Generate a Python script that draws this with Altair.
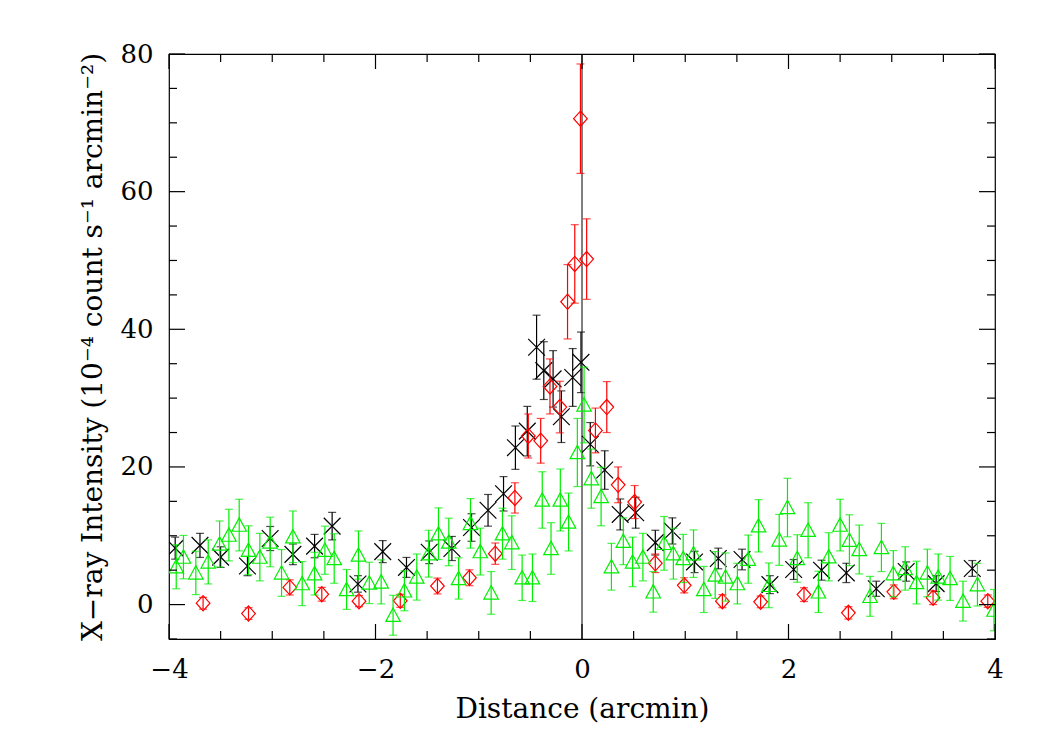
import altair as alt
import pandas as pd

# ---- black crosses (binned profile) ----
black_x = [-3.94, -3.70, -3.50, -3.24, -3.02, -2.80, -2.59, -2.42, -2.17, -1.93,
           -1.70, -1.48, -1.26, -1.07, -0.91, -0.76, -0.645, -0.53, -0.44, -0.37,
           -0.28, -0.20, -0.09, -0.01, 0.08, 0.22, 0.37, 0.52, 0.71, 0.875,
           1.09, 1.32, 1.55, 1.82, 2.05, 2.32, 2.56, 2.85, 3.14, 3.43, 3.78]
black_y = [8.2, 8.6, 6.9, 5.6, 9.6, 7.3, 8.5, 11.4, 3.0, 7.7,
           5.4, 7.6, 8.15, 11.2, 13.7, 16.1, 22.8, 25.2, 37.4, 34.0,
           32.8, 27.3, 33.0, 35.2, 23.3, 19.55, 13.1, 13.35, 9.0, 10.7,
           6.2, 6.7, 6.55, 2.9, 5.1, 5.0, 4.6, 2.3, 4.8, 3.05, 5.25]
black_e = [1.6, 1.75, 1.5, 1.4, 1.75, 1.5, 1.7, 2.0, 1.2, 1.6,
           1.45, 1.65, 1.75, 2.0, 2.3, 2.5, 3.15, 3.6, 4.65, 4.2,
           4.1, 3.75, 4.2, 4.4, 3.15, 2.8, 2.25, 2.25, 1.8, 1.9,
           1.55, 1.5, 1.5, 1.3, 1.45, 1.45, 1.4, 1.1, 1.4, 1.15, 1.15]

# ---- red diamonds ----
red_x = [-3.67, -3.23, -2.83, -2.52, -2.16, -1.76, -1.40, -1.09, -0.84, -0.65,
         -0.52, -0.40, -0.31, -0.215, -0.14, -0.07, -0.015, 0.045, 0.13, 0.24,
         0.35, 0.51, 0.71, 0.99, 1.36, 1.73, 2.15, 2.58, 3.02, 3.40, 3.93]
red_y = [0.2, -1.3, 2.5, 1.5, 0.5, 0.55, 2.7, 3.9, 7.4, 15.5,
         24.5, 23.8, 31.7, 28.7, 44.0, 49.5, 70.6, 50.2, 25.3, 28.7,
         17.4, 14.9, 6.0, 2.8, 0.5, 0.4, 1.45, -1.2, 1.85, 1.0, 0.5]
red_e = [0.85, 0.85, 1.1, 1.0, 0.8, 0.95, 1.15, 1.15, 1.55, 2.2,
         3.2, 3.25, 4.0, 3.75, 5.4, 5.7, 7.95, 5.85, 3.25, 3.7,
         2.6, 2.4, 1.35, 1.1, 0.95, 0.85, 1.0, 0.9, 1.0, 1.0, 0.9]

# ---- green triangles ----
green_x = [-3.93, -3.86, -3.74, -3.62, -3.51, -3.42, -3.32, -3.23, -3.12, -3.02,
           -2.91, -2.80, -2.71, -2.59, -2.49, -2.40, -2.28, -2.165, -2.06, -1.945,
           -1.83, -1.72, -1.60, -1.485, -1.39, -1.29, -1.195, -1.08, -0.985, -0.88,
           -0.77, -0.68, -0.58, -0.48, -0.385, -0.30, -0.21, -0.13, -0.045, 0.02,
           0.09, 0.185, 0.285, 0.40, 0.49, 0.59, 0.69, 0.795, 0.885, 0.98,
           1.08, 1.18, 1.29, 1.39, 1.505, 1.61, 1.71, 1.81, 1.91, 1.99,
           2.085, 2.19, 2.29, 2.39, 2.50, 2.59, 2.685, 2.79, 2.90, 3.015,
           3.13, 3.24, 3.345, 3.45, 3.565, 3.69, 3.83, 3.99]
green_y = [5.5, 6.9, 4.6, 6.2, 8.8, 10.1, 11.55, 7.9, 6.9, 9.1,
           4.6, 9.85, 3.05, 4.5, 7.9, 6.7, 2.2, 7.2, 3.15, 3.3,
           -1.55, 2.0, 4.0, 7.4, 10.3, 9.1, 3.8, 11.8, 7.7, 1.7,
           10.3, 9.0, 3.9, 3.9, 15.2, 8.15, 15.2, 12.0, 22.1, 29.0,
           18.3, 15.7, 5.5, 9.2, 6.2, 6.9, 1.85, 8.9, 7.4, 6.7,
           7.4, 2.2, 4.3, 4.0, 3.05, 6.6, 11.45, 2.8, 9.4, 14.1,
           6.7, 10.8, 1.85, 6.95, 11.55, 9.35, 8.0, 1.2, 8.3, 4.5,
           5.25, 3.2, 4.6, 4.0, 3.8, 0.5, 2.9, -0.8]
green_e = [3.2, 3.15, 3.15, 3.2, 3.35, 3.75, 3.75, 3.55, 3.45, 3.6,
           3.4, 3.75, 3.2, 3.1, 3.5, 3.6, 2.9, 3.5, 3.0, 3.2,
           2.9, 2.9, 3.35, 3.4, 3.75, 3.45, 3.0, 3.6, 3.4, 3.1,
           3.7, 3.9, 3.3, 3.45, 4.1, 3.75, 4.5, 4.2, 4.95, 5.5,
           4.3, 4.25, 3.4, 3.4, 3.6, 3.45, 2.95, 3.9, 3.7, 3.5,
           3.45, 3.35, 3.4, 3.5, 2.95, 3.5, 3.8, 3.25, 3.7, 4.25,
           3.45, 4.0, 3.0, 3.5, 3.75, 3.7, 3.55, 2.9, 3.5, 3.35,
           3.15, 3.1, 3.45, 3.35, 3.2, 2.9, 3.1, 3.0]

# ---- axis tick positions ----
x_major = [-4, -2, 0, 2, 4]
x_minor = [-3.5, -3, -2.5, -1.5, -1, -0.5, 0.5, 1, 1.5, 2.5, 3, 3.5]
y_major = [0, 20, 40, 60, 80]
y_minor = [-5, 5, 10, 15, 25, 30, 35, 45, 50, 55, 65, 70, 75]

W, H = 826, 585
FONT = "DejaVu Serif"

xs = alt.Scale(domain=[-4, 4], nice=False, zero=False)
ys = alt.Scale(domain=[-5, 80], nice=False, zero=False)

xaxis = alt.Axis(values=x_major, title="Distance (arcmin)", grid=False, domain=False,
                 ticks=False, tickSize=0, labelPadding=17, labelFont=FONT, labelFontSize=26,
                 labelColor="black", titleFont=FONT, titleFontSize=28, titleFontWeight="normal",
                 titleColor="black", titleX=W / 2, titleY=70, titleBaseline="middle",
                 labelFlush=False)
yaxis = alt.Axis(values=y_major, title="X\u2212ray Intensity (10\u207b\u2074 count s\u207b\u00b9 arcmin\u207b\u00b2)",
                 grid=False, domain=False, ticks=False, tickSize=0, labelPadding=16,
                 labelFont=FONT, labelFontSize=26, labelColor="black", titleFont=FONT,
                 titleFontSize=28, titleFontWeight="normal", titleColor="black",
                 titleX=-76, titleY=H / 2, titleAngle=-90, titleAlign="center",
                 titleBaseline="middle", labelFlush=False)

X = alt.X("x:Q", scale=xs, axis=xaxis)


def series(xv, yv, ev, color, shape, size):
    df = pd.DataFrame({"x": xv, "y": yv, "e": ev})
    base = alt.Chart(df).transform_calculate(lo="datum.y - datum.e", hi="datum.y + datum.e")
    bars = base.mark_rule(color=color, strokeWidth=1.2, clip=True).encode(
        x=X, y=alt.Y("lo:Q", scale=ys, axis=yaxis), y2="hi:Q")
    cap_lo = base.mark_tick(color=color, orient="horizontal", size=8, thickness=1.2, clip=True).encode(
        x=X, y=alt.Y("lo:Q", scale=ys, axis=yaxis))
    cap_hi = base.mark_tick(color=color, orient="horizontal", size=8, thickness=1.2, clip=True).encode(
        x=X, y=alt.Y("hi:Q", scale=ys, axis=yaxis))
    pts = base.mark_point(shape=shape, size=size, color=color, filled=False, strokeWidth=1.2,
                          opacity=1, clip=True).encode(x=X, y=alt.Y("y:Q", scale=ys, axis=yaxis))
    return [bars, cap_lo, cap_hi, pts]


cross = "M-1,-1L1,1M-1,1L1,-1"
diamond = "M0,-1L0.9,0L0,1L-0.9,0Z"
triangle = "M0,-1L1,0.85L-1,0.85Z"

layers = []
layers += series(black_x, black_y, black_e, "#000000", cross, 280)
layers += series(red_x, red_y, red_e, "#ff0000", diamond, 230)
layers += series(green_x, green_y, green_e, "#00ee00", triangle, 210)

zero_line = alt.Chart(pd.DataFrame({"x": [0]})).mark_rule(color="black", strokeWidth=1).encode(x=X)


def xticks(vals, length):
    df = pd.DataFrame({"x": vals})
    bot = alt.Chart(df).mark_rule(color="black", strokeWidth=1.2).encode(
        x=X, y=alt.value(H), y2=alt.value(H - length))
    top = alt.Chart(df).mark_rule(color="black", strokeWidth=1.2).encode(
        x=X, y=alt.value(0), y2=alt.value(length))
    return [bot, top]


def yticks(vals, length):
    df = pd.DataFrame({"y": vals})
    Y = alt.Y("y:Q", scale=ys, axis=yaxis)
    left = alt.Chart(df).mark_rule(color="black", strokeWidth=1.2).encode(
        y=Y, x=alt.value(0), x2=alt.value(length))
    right = alt.Chart(df).mark_rule(color="black", strokeWidth=1.2).encode(
        y=Y, x=alt.value(W), x2=alt.value(W - length))
    return [left, right]


tick_layers = xticks(x_major, 15) + xticks(x_minor, 8) + yticks(y_major, 16) + yticks(y_minor, 8)

chart = alt.layer(zero_line, *layers, *tick_layers).properties(
    width=W, height=H,
    autosize=alt.AutoSizeParams(type="none"),
    padding={"left": 161, "top": 46, "right": 40, "bottom": 90},
    background="white",
).configure_view(stroke="black", strokeWidth=1.2)

chart.save("out.html", embed_options={"renderer": "svg", "actions": False})
